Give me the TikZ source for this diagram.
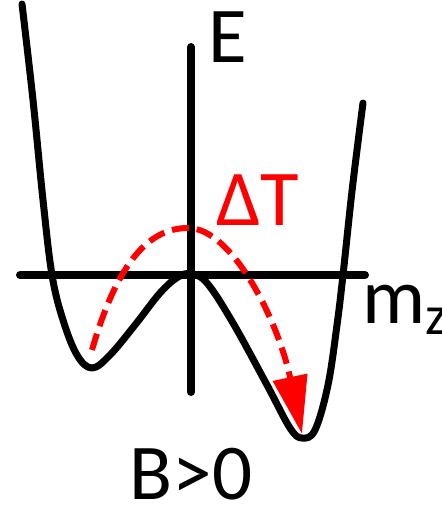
\documentclass[tikz,border=0pt]{standalone}
\usepackage{fontspec}
\setmainfont{Carlito}
\usetikzlibrary{arrows.meta}
\tikzset{
  axisline/.style={line width=8*0.02cm, line cap=round},
  wellcurve/.style={line width=7*0.02cm, line cap=round, line join=round},
  hoparrow/.style={red, line width=6*0.02cm, dash pattern=on 17*0.02cm off 8*0.02cm,
    -{Triangle[length=58*0.02cm, width=34*0.02cm]}},
  lbl/.style={anchor=base west, inner sep=0pt, font=\fontsize{45}{45}\selectfont},
}
\begin{document}
\begin{tikzpicture}[x=0.02cm, y=-0.02cm]
  \useasboundingbox (0,0) rectangle (442,507);
  \clip (0,0) rectangle (442,507);

  % axes
  \draw[axisline] (191,47) -- (191,392);
  \draw[axisline] (20,275) -- (365,275);

  % double-well potential
  \draw[wellcurve] plot[smooth, tension=0.6] coordinates {
    (22,4) (33,100) (43,200) (52,275) (63,320) (77,355) (92,368)
    (110,355) (135,325) (160,293) (178,277) (191,274)
    (207,283) (233,323) (267,385) (290,428) (302,438) (315,430)
    (328,385) (337,325) (343,275) (351,200) (357,150) (363,103)};

  % thermal hop
  \draw[hoparrow] (92,350) .. controls (118,260) and (150,228) .. (188,228)
    .. controls (232,228) and (278,320) .. (302,434);

  % labels
  \node[lbl] (Elbl) at (208,62) {E};
  \node[lbl, text=red] (dTlbl) at (216,225) {ΔT};
  \node[lbl] (mzlbl) at (362,323) {m\textsubscript{z}};
  \node[lbl, anchor=base] (Blbl) at (191,499) {B>0};
\end{tikzpicture}
\end{document}
